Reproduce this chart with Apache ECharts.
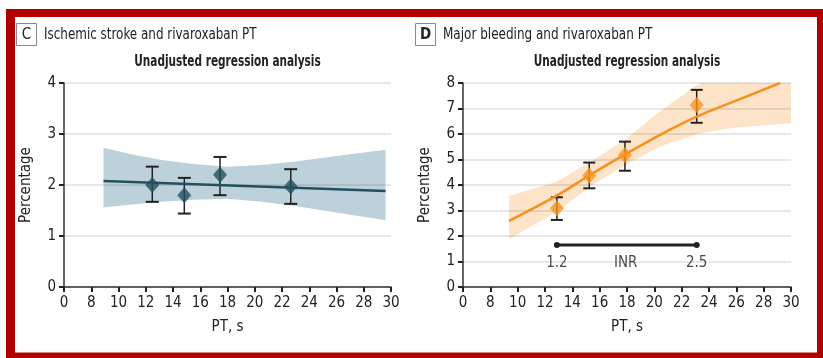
<!DOCTYPE html>
<html>
<head>
<meta charset="utf-8">
<script src="https://cdn.jsdelivr.net/npm/echarts@6/dist/echarts.min.js"></script>
<style>
html, body { margin: 0; padding: 0; background: #fff; }
#main { width: 823px; height: 358px; }
</style>
</head>
<body>
<div id="main"></div>
<script>
var FONT = '"Liberation Sans Narrow", "DejaVu Sans Condensed", "Liberation Sans", sans-serif';

// x 轴: 6 的位置标成 0 (断轴)
var xTickLabels = ['0', '8', '10', '12', '14', '16', '18', '20', '22', '24', '26', '28', '30'];

// C: 缺血性卒中
var strokePT = [12.48, 14.83, 17.45, 22.64];
var strokePct = [2.00, 1.80, 2.20, 1.97];
var strokeLow = [1.67, 1.44, 1.80, 1.63];
var strokeHigh = [2.36, 2.14, 2.55, 2.31];
var strokeFitPT = [8.9, 29.6];
var strokeFit = [2.08, 1.88];
var strokeBandPT = [8.9, 11, 13.2, 15.5, 18, 20.5, 23, 26, 29.6];
var strokeBandLow = [1.56, 1.62, 1.67, 1.71, 1.73, 1.67, 1.59, 1.46, 1.31];
var strokeBandHigh = [2.73, 2.60, 2.49, 2.41, 2.36, 2.39, 2.46, 2.57, 2.69];

// D: 大出血
var bleedPT = [12.87, 15.24, 17.85, 23.1];
var bleedPct = [3.09, 4.37, 5.18, 7.14];
var bleedLow = [2.63, 3.87, 4.56, 6.44];
var bleedHigh = [3.52, 4.88, 5.70, 7.73];
var bleedFitPT = [9.37, 12.85, 15.29, 17.85, 20.4, 23.1, 25.8, 29.2];
var bleedFit = [2.59, 3.58, 4.39, 5.2, 5.96, 6.68, 7.27, 8.0];
var bleedBandPT = [9.37, 12.85, 15.29, 17.85, 20.4, 23.1, 23.5, 25.8, 30];
var bleedBandLow = [1.88, 2.95, 3.93, 4.78, 5.50, 5.99, 6.05, 6.25, 6.42];
var bleedBandHigh = [3.58, 4.13, 4.89, 5.76, 6.88, 7.92, 8, 8, 8];

// INR 范围
var inrPT = [12.87, 23.1];
var inrY = 1.65;
var inrLabels = [['1.2', 12.87], ['INR', 17.9], ['2.5', 23.1]];
var inrLabelY = 0.95;

var myChart = echarts.init(document.getElementById('main'));

function pairs(xs, ys) {
    return xs.map(function (x, i) { return [x, ys[i]]; });
}

function bandItem(xs, lo, hi, color) {
    return function (params, api) {
        var pts = [];
        for (var i = 0; i < xs.length; i++) pts.push(api.coord([xs[i], hi[i]]));
        for (var j = xs.length - 1; j >= 0; j--) pts.push(api.coord([xs[j], lo[j]]));
        return { type: 'polygon', shape: { points: pts }, style: { fill: color } };
    };
}

function errorItem(capW) {
    return function (params, api) {
        var x = api.value(0);
        var lo = api.coord([x, api.value(1)]);
        var hi = api.coord([x, api.value(2)]);
        var st = { stroke: '#222', lineWidth: 1.5 };
        return {
            type: 'group',
            children: [
                { type: 'line', shape: { x1: lo[0], y1: lo[1], x2: hi[0], y2: hi[1] }, style: st },
                { type: 'line', shape: { x1: lo[0] - capW / 2, y1: lo[1], x2: lo[0] + capW / 2, y2: lo[1] }, style: { stroke: '#222', lineWidth: 2 } },
                { type: 'line', shape: { x1: hi[0] - capW / 2, y1: hi[1], x2: hi[0] + capW / 2, y2: hi[1] }, style: { stroke: '#222', lineWidth: 2 } }
            ]
        };
    };
}

function xAxisOf(gi) {
    return {
        gridIndex: gi, type: 'value', min: 6, max: 30, interval: 2,
        name: 'PT, s', nameLocation: 'middle', nameGap: 33,
        nameTextStyle: { fontFamily: FONT, fontSize: 15, color: '#222' },
        axisLine: { lineStyle: { color: '#333', width: 1.5 } },
        axisTick: { length: 5, lineStyle: { color: '#222', width: 2 } },
        axisLabel: {
            fontFamily: FONT, fontSize: 15, color: '#222', margin: 9,
            formatter: function (v) { return xTickLabels[Math.round((v - 6) / 2)]; }
        },
        splitLine: { show: false }
    };
}

function yAxisOf(gi, max) {
    return {
        gridIndex: gi, type: 'value', min: 0, max: max, interval: 1,
        name: 'Percentage', nameLocation: 'middle', nameGap: 30,
        nameTextStyle: { fontFamily: FONT, fontSize: 15, color: '#222' },
        axisLine: { show: true, lineStyle: { color: '#333', width: 1.5 } },
        axisTick: { show: true, length: 5, lineStyle: { color: '#222', width: 2 } },
        axisLabel: { fontFamily: FONT, fontSize: 15, color: '#222', margin: 8 },
        splitLine: { lineStyle: { color: 'rgba(0,0,0,0.09)', width: 2 } }
    };
}

function txt(x, y, s, size, align, weight, sx) {
    return {
        type: 'text', x: x, y: y, z: 10, scaleX: sx || 1,
        style: {
            text: s, fill: '#222', align: align || 'left', verticalAlign: 'middle',
            font: (weight || 'normal') + ' ' + size + 'px ' + FONT
        }
    };
}

var option = {
    animation: false,
    graphic: [
        { type: 'rect', z: -100, shape: { x: 6, y: 9, width: 830, height: 360 }, style: { fill: '#b00000' } },
        { type: 'rect', z: -99, shape: { x: 15, y: 17, width: 802, height: 335.5 }, style: { fill: '#fff' } },
        { type: 'rect', z: 10, shape: { x: 16.5, y: 23.5, width: 20, height: 22 }, style: { fill: '#fff', stroke: '#888', lineWidth: 1 } },
        { type: 'rect', z: 10, shape: { x: 415.5, y: 23.5, width: 20, height: 22 }, style: { fill: '#fff', stroke: '#888', lineWidth: 1 } },
        txt(26.5, 35, 'C', 15, 'center'),
        txt(425.5, 35, 'D', 15, 'center', 'bold'),
        txt(44, 35, 'Ischemic stroke and rivaroxaban PT', 16, 'left', 'normal', 0.83),
        txt(443, 35, 'Major bleeding and rivaroxaban PT', 16, 'left', 'normal', 0.835),
        txt(227.5, 62, 'Unadjusted regression analysis', 15, 'center', 'bold', 0.78),
        txt(627, 62, 'Unadjusted regression analysis', 15, 'center', 'bold', 0.78)
    ],
    grid: [
        { left: 64, top: 83, width: 327, height: 204 },
        { left: 463, top: 83, width: 328, height: 204 }
    ],
    xAxis: [xAxisOf(0), xAxisOf(1)],
    yAxis: [yAxisOf(0, 4), yAxisOf(1, 8)],
    series: [
        {
            type: 'custom', xAxisIndex: 0, yAxisIndex: 0, z: -1, silent: true,
            renderItem: bandItem(strokeBandPT, strokeBandLow, strokeBandHigh, '#bdd1da'),
            data: [[strokeBandPT[0], strokeBandHigh[0]]]
        },
        {
            type: 'line', xAxisIndex: 0, yAxisIndex: 0, symbol: 'none',
            lineStyle: { color: '#24505e', width: 2.5 },
            data: pairs(strokeFitPT, strokeFit)
        },
        {
            type: 'custom', xAxisIndex: 0, yAxisIndex: 0,
            renderItem: errorItem(13),
            data: strokePT.map(function (x, i) { return [x, strokeLow[i], strokeHigh[i]]; })
        },
        {
            type: 'scatter', xAxisIndex: 0, yAxisIndex: 0, symbol: 'diamond', symbolSize: [14, 16], z: 5,
            itemStyle: { color: '#24505e' },
            data: pairs(strokePT, strokePct)
        },
        {
            type: 'custom', xAxisIndex: 1, yAxisIndex: 1, z: -1, silent: true,
            renderItem: bandItem(bleedBandPT, bleedBandLow, bleedBandHigh, '#fde3c8'),
            data: [[bleedBandPT[0], bleedBandHigh[0]]]
        },
        {
            type: 'line', xAxisIndex: 1, yAxisIndex: 1, symbol: 'none', smooth: 0.4,
            lineStyle: { color: '#f7901e', width: 2.5 },
            data: pairs(bleedFitPT, bleedFit)
        },
        {
            type: 'custom', xAxisIndex: 1, yAxisIndex: 1,
            renderItem: errorItem(12),
            data: bleedPT.map(function (x, i) { return [x, bleedLow[i], bleedHigh[i]]; })
        },
        {
            type: 'scatter', xAxisIndex: 1, yAxisIndex: 1, symbol: 'diamond', symbolSize: [14, 16], z: 5,
            itemStyle: { color: '#f7941d' },
            data: pairs(bleedPT, bleedPct)
        },
        {
            type: 'line', xAxisIndex: 1, yAxisIndex: 1, symbol: 'circle', symbolSize: 6,
            itemStyle: { color: '#222' },
            lineStyle: { color: '#222', width: 3 },
            data: inrPT.map(function (x) { return [x, inrY]; })
        },
        {
            type: 'scatter', xAxisIndex: 1, yAxisIndex: 1, symbolSize: 1, silent: true,
            itemStyle: { color: 'rgba(0,0,0,0)' },
            label: {
                show: true, position: 'inside', fontFamily: FONT, fontSize: 15, color: '#1a1a1a',
                formatter: function (p) { return p.data[2]; }
            },
            data: inrLabels.map(function (d) { return [d[1], inrLabelY, d[0]]; })
        }
    ]
};

myChart.setOption(option);
</script>
</body>
</html>
